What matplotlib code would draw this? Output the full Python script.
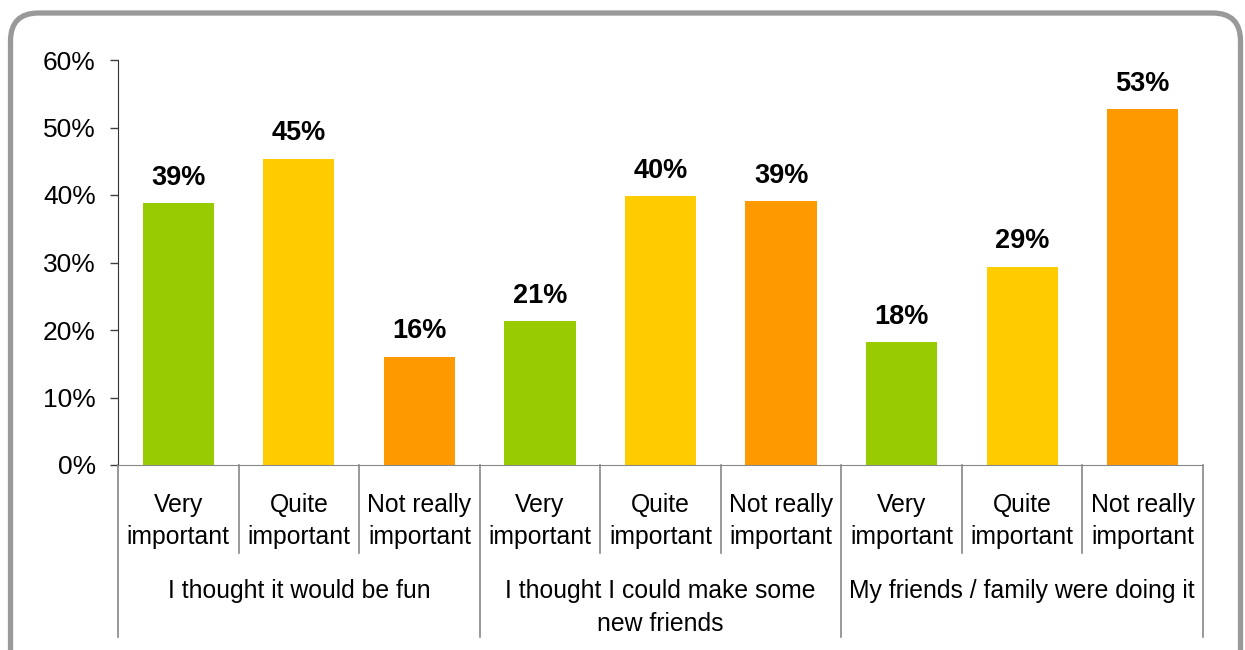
import numpy as np
import matplotlib.pyplot as plt
from matplotlib.patches import FancyBboxPatch
from matplotlib.transforms import IdentityTransform

plt.rcParams['font.family'] = ['Liberation Sans', 'DejaVu Sans']

groups = ['I thought it would be fun', 'I thought I could make some\nnew friends',
          'My friends / family were doing it']
levels = ['Very\nimportant', 'Quite\nimportant', 'Not really\nimportant']
values = [38.8, 45.4, 16.0,
          21.3, 39.8, 39.1,
          18.2, 29.4, 52.7]
colors = ['#99CC00', '#FFCC00', '#FF9900']

fig = plt.figure(figsize=(12.45, 6.5), dpi=100)
ax = fig.add_axes([118 / 1245, 1 - 465 / 650, (1203 - 118) / 1245, 405 / 650])

x = np.arange(len(values))
bar_colors = [colors[i % 3] for i in range(len(values))]
bars = ax.bar(x, values, width=0.59, color=bar_colors)

for xi, v in zip(x, values):
    ax.annotate('%.0f%%' % v, (xi, v), xytext=(0, 9), textcoords='offset points',
                ha='center', va='bottom', fontsize=19.5, fontweight='bold')

ax.set_xlim(-0.5, len(values) - 0.5)
ax.set_ylim(0, 60)
ax.set_yticks(np.arange(0, 61, 10))
ax.set_yticklabels(['%d%%' % t for t in range(0, 61, 10)])
ax.tick_params(axis='y', labelsize=19, length=6, width=1, color='#404040', pad=10)
ax.set_xticks([])

for s in ['top', 'right']:
    ax.spines[s].set_visible(False)
ax.spines['left'].set_color('#333333')
ax.spines['bottom'].set_color('#888888')

# two-level category axis
tr = ax.get_xaxis_transform()
for i in range(len(values) + 1):
    xb = i - 0.5
    y_end = -0.425 if i % 3 == 0 else -0.217
    ax.plot([xb, xb], [0, y_end], color='#888888', lw=1.2, transform=tr, clip_on=False)

for i in range(len(values)):
    ax.text(i, -0.138, levels[i % 3], transform=tr, ha='center', va='center',
            fontsize=17.8, linespacing=1.45)

for g, name in enumerate(groups):
    ax.text(3 * g + 1, -0.282, name, transform=tr, ha='center', va='top',
            fontsize=17.8, linespacing=1.45)

# rounded frame around the chart
frame = FancyBboxPatch((10.5, -30), 1230, 667, boxstyle='round,pad=0,rounding_size=28',
                       transform=IdentityTransform(), fill=False,
                       edgecolor='#999999', linewidth=3.8)
fig.add_artist(frame)

fig.savefig('out.png', dpi=100)
